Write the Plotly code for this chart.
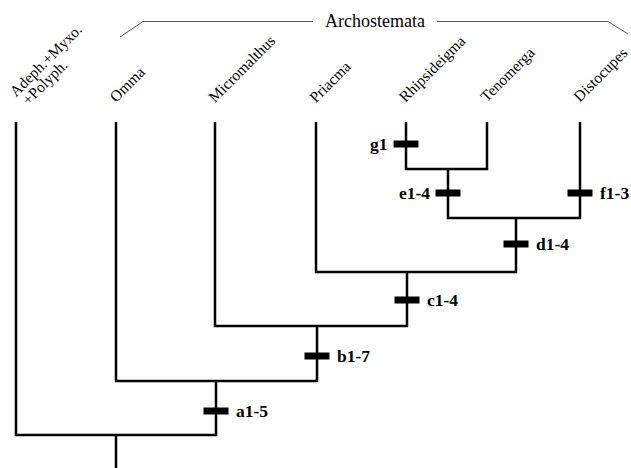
import plotly.graph_objects as go

# Tips of the cladogram
tip_names = ["Adeph.+Myxo.<br>+Polyph.", "Omma", "Micromalthus", "Priacma",
             "Rhipsideigma", "Tenomerga", "Distocupes"]
tip_keys = ["Adeph", "Omma", "Micromalthus", "Priacma", "Rhipsideigma", "Tenomerga", "Distocupes"]
tip_x = [16, 116, 215, 316, 406, 487, 580]
tip_top = 122

# Internal nodes (left child, right child)
node_keys = ["RT", "EF", "PD", "MC", "OB", "AA"]
node_x = [448, 516, 407, 317, 216, 116]
node_y = [169, 218, 272, 326, 381, 435]
node_left = ["Rhipsideigma", "RT", "Priacma", "Micromalthus", "Omma", "Adeph"]
node_right = ["Tenomerga", "Distocupes", "EF", "PD", "MC", "OB"]
root_bottom = 468

# Character state changes on branches
char_labels = ["g1", "e1-4", "f1-3", "d1-4", "c1-4", "b1-7", "a1-5"]
char_branch = ["Rhipsideigma", "RT", "Distocupes", "EF", "PD", "MC", "OB"]
char_y = [144, 193, 193, 244, 300, 356, 411]
char_side = ["left", "left", "right", "right", "right", "right", "right"]

group_label = "Archostemata"
bracket_x = [120, 143, 313, None, 437, 608, 628]
bracket_y = [37, 21.5, 21.5, None, 21.5, 21.5, 34]

pos = {k: (x, tip_top) for k, x in zip(tip_keys, tip_x)}
for k, x, y in zip(node_keys, node_x, node_y):
    pos[k] = (x, y)

xs, ys = [], []
for k, x, y, l, r in zip(node_keys, node_x, node_y, node_left, node_right):
    lx, ly = pos[l]
    rx, ry = pos[r]
    xs += [lx, lx, rx, rx, None]
    ys += [ly, y, y, ry, None]
root_x, root_y = pos["AA"]
xs += [root_x, root_x, None]
ys += [root_y, root_bottom, None]

fig = go.Figure()
fig.add_trace(go.Scatter(x=xs, y=ys, mode="lines",
                         line=dict(color="black", width=2.5), hoverinfo="skip"))
fig.add_trace(go.Scatter(x=bracket_x, y=bracket_y, mode="lines",
                         line=dict(color="#555555", width=1), hoverinfo="skip"))

half = 12.5
bx, by = [], []
annotations = []
for lab, br, y, side in zip(char_labels, char_branch, char_y, char_side):
    x = pos[br][0]
    bx += [x - half, x + half, None]
    by += [y, y, None]
    if side == "left":
        annotations.append(dict(x=x - half - 4, y=y, text="<b>%s</b>" % lab, xanchor="right",
                                yanchor="middle", showarrow=False))
    else:
        annotations.append(dict(x=x + half + 5, y=y, text="<b>%s</b>" % lab, xanchor="left",
                                yanchor="middle", showarrow=False))
fig.add_trace(go.Scatter(x=bx, y=by, mode="lines",
                         line=dict(color="black", width=7), hoverinfo="skip"))

for name, x in zip(tip_names, tip_x):
    lines = name.split("<br>")
    if len(lines) == 1:
        annotations.append(dict(x=x - 13, y=108, text=name, textangle=-45, xanchor="left",
                                yanchor="bottom", showarrow=False, font=dict(size=15.5)))
    else:
        for i, ln in enumerate(lines):
            annotations.append(dict(x=x + 29 - i, y=60 + 22 * i, text=ln, textangle=-45,
                                    xanchor="center", yanchor="middle", showarrow=False,
                                    font=dict(size=15.5)))

annotations.append(dict(x=375, y=21, text=group_label, showarrow=False,
                        xanchor="center", yanchor="middle", font=dict(size=18)))

for a in annotations:
    a.setdefault("font", dict(size=17.5))
    a["font"]["family"] = "Liberation Serif"
    a["font"]["color"] = "black"

fig.update_layout(
    width=631, height=468, margin=dict(l=0, r=0, t=0, b=0),
    paper_bgcolor="white", plot_bgcolor="white", showlegend=False,
    xaxis=dict(range=[0, 631], visible=False, fixedrange=True),
    yaxis=dict(range=[468, 0], visible=False, fixedrange=True),
    annotations=annotations,
)
fig.write_html("out.html", config={"displayModeBar": False},
               post_script="document.body.style.margin='0';document.body.style.overflow='hidden';")
